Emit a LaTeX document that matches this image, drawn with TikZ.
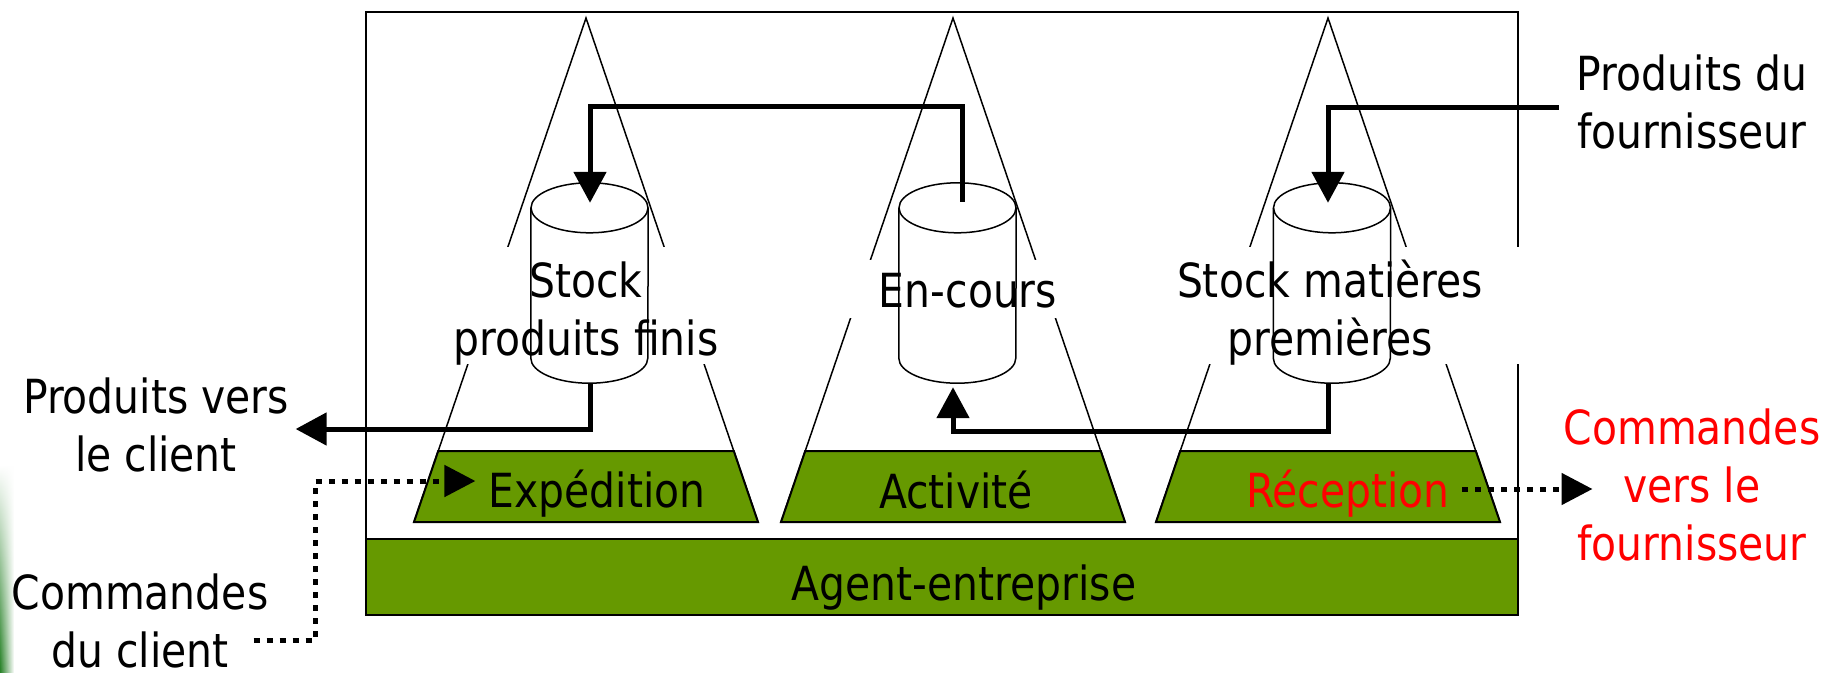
\documentclass[tikz,border=0pt]{standalone}
\usepackage{fontspec}
\setmainfont{DejaVu Sans}[FakeStretch=0.87]
\usetikzlibrary{arrows.meta,calc,fadings}
\definecolor{leaf}{HTML}{669900}
\definecolor{edgegreen}{RGB}{40,130,40}
\newcommand\capline{\rule{0pt}{40pt}}

\begin{document}
\begin{tikzpicture}[x=1pt,y=-1pt,
  lbl/.style={inner sep=0pt, font=\fontsize{47}{58}\selectfont, align=center},
  outline/.style={line width=1.5pt},
  band/.style={fill=leaf, draw=black, line width=2pt},
  flow/.style={line width=5pt, -{Triangle[length=31pt,width=32pt]}},
  order/.style={line width=5pt, dash pattern=on 6pt off 7pt, -{Triangle[length=31pt,width=31pt]}},
  tank/.style={rectangle, draw=none, minimum width=117pt, minimum height=200pt, inner sep=0pt},
  mask/.style={fill=white}
]
\useasboundingbox (0,0) rectangle (1841,672);
\fill[white] (0,0) rectangle (1841,672);

% faded green edge at the bottom left
\shade[top color=white, bottom color=edgegreen, path fading=east] (0,465) rectangle (14,672);

% enterprise frame
\draw[outline] (366,12) rectangle (1518,615);

% three activity cones with their green base bands
\foreach \c in {586,953,1328}{
  \draw[outline] (\c-172,522) -- (\c,18) -- (\c+172,522);
  \draw[band] (\c-147.8,451) -- (\c+147.8,451) -- (\c+172,522) -- (\c-172,522) -- cycle;
}

% enterprise agent bar
\draw[band] (366,539) rectangle (1518,615);

% white label backgrounds that interrupt the cone sides
\fill[mask] (395,247) rectangle (775,364);
\fill[mask] (845,260) rectangle (1072,318);
\fill[mask] (1140,247) rectangle (1522,364);

% labels
\node[lbl, anchor=north] (pvc) at (156,373) {\capline Produits vers\\le client};
\node[lbl, anchor=north] (cdc) at (140,569) {\capline Commandes\\du client};
\node[lbl, anchor=north] (pdf) at (1692,50) {\capline Produits du\\fournisseur};
\node[lbl, anchor=north, text=red] (cvf) at (1692,404) {\capline Commandes\\vers le\\fournisseur};
\node[lbl, anchor=north] (stockL) at (586,257) {\capline Stock\\produits finis};
\node[lbl, anchor=base] (encours) at (968,307) {En-cours};
\node[lbl, anchor=north] (stockR) at (1330,257) {\capline Stock matières\\premières};
\node[lbl, anchor=base] (exp) at (597,507) {Expédition};
\node[lbl, anchor=base] (act) at (956,508) {Activité};
\node[lbl, anchor=base, text=red] (rec) at (1348,507) {Réception};
\node[lbl, anchor=base] (agent) at (964,600) {Agent-entreprise};

% stocks: open cylinders drawn on their node frames
\node[tank] (cylL) at (589.5,283) {};
\node[tank] (cylM) at (957.5,283) {};
\node[tank] (cylR) at (1332,283) {};
\foreach \t in {cylL,cylM,cylR}{
  \draw[outline] ($(\t.north west)+(0,25)$) -- ($(\t.south west)+(0,-25)$)
    arc[start angle=180, end angle=360, x radius=58.5pt, y radius=25pt]
    -- ($(\t.north east)+(0,25)$);
  \draw[outline] ($(\t.north)+(0,25)$) ellipse[x radius=58.5pt, y radius=25pt];
}

% product flows
\draw[flow] ($(pdf.north west)+(-18,57)$) -| ($(cylR.north)+(-4,20)$);
\draw[flow] ($(cylM.north)+(4.5,19)$) |- ($(cylL.north)+(0.5,-76)$) -- ($(cylL.north)+(0.5,20)$);
\draw[flow] ($(cylR.south)+(-4,0)$) |- ($(cylM.south)+(-4.5,48)$) -- ($(cylM.south)+(-4.5,4)$);
\draw[flow] ($(cylL.south)+(0.5,0)$) |- ($(pvc.north east)+(6.5,56)$);

% order flows
\draw[order] ($(cdc.north east)+(-15,71)$) -| ($(exp.base west)+(-173,-26)$) -- ($(exp.base west)+(-13,-26)$);
\draw[order] ($(rec.base east)+(12,-18)$) -- ($(cvf.north west)+(29,85)$);
\end{tikzpicture}
\end{document}
